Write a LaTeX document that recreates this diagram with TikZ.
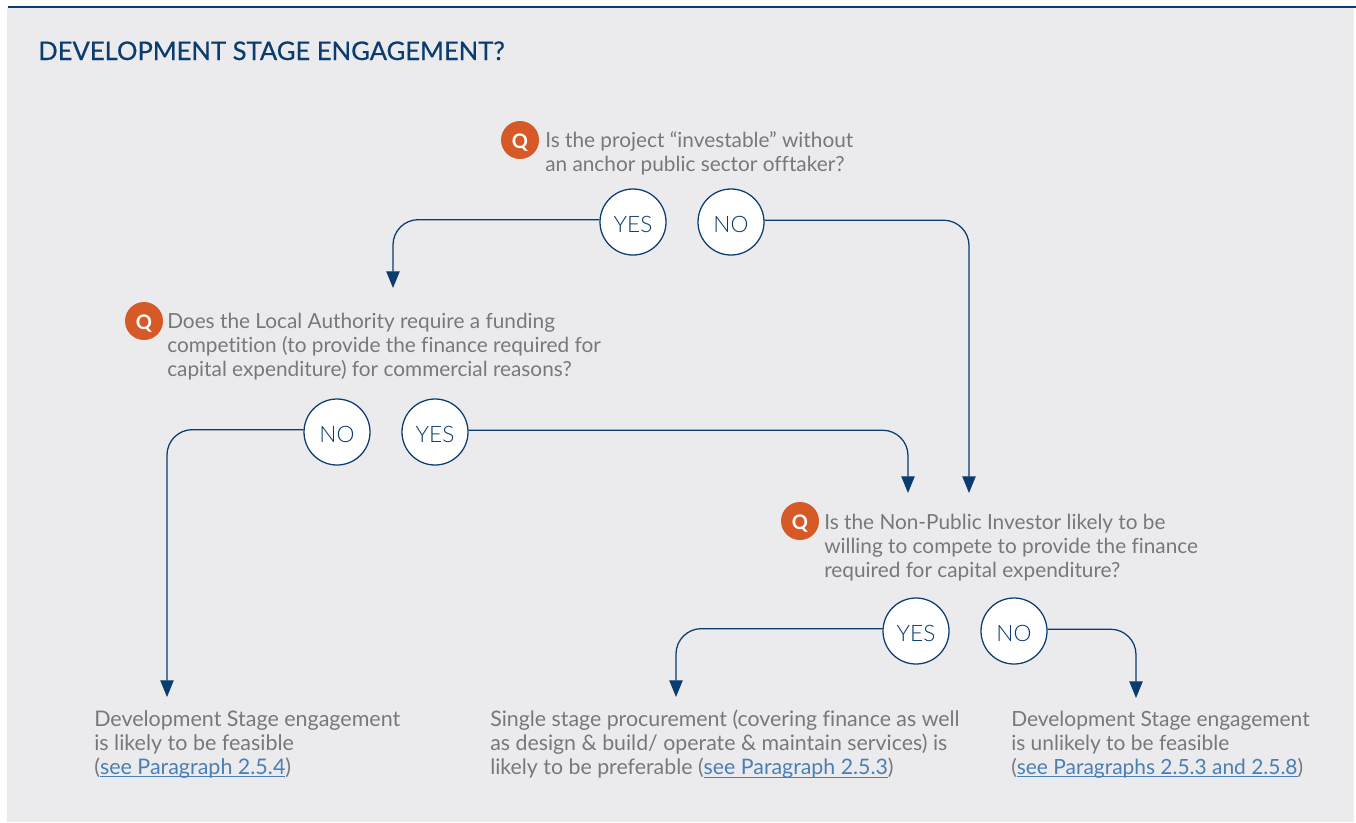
\documentclass[tikz,border=0pt]{standalone}
\usepackage{fontspec}
\setmainfont[Ligatures=NoCommon]{Lato}
\newfontfamily\titlefont[FakeBold=0.5]{Lato}
\newfontfamily\lightfont{Lato Light}
\definecolor{navy}{HTML}{0B3C6F}
\definecolor{panel}{HTML}{EBEBED}
\definecolor{txt}{HTML}{77787B}
\definecolor{orng}{HTML}{D65A27}
\definecolor{lnkblue}{HTML}{4A7FB5}
\newcommand\lnk[1]{\textcolor{lnkblue}{\setbox0\hbox{#1}\rlap{\rule[-2pt]{\wd0}{0.6pt}}\box0}}
\usetikzlibrary{arrows.meta}
\tikzset{
  x=0.75pt,y=-0.75pt,
  ans/.style={circle,draw=navy,line width=0.95pt,fill=white,minimum size=49.5pt,inner sep=0pt,text=navy,text height=15.2pt,text depth=0pt,font=\fontsize{17}{18}\lightfont},
  qbadge/.style={circle,fill=orng,minimum size=28.5pt,inner sep=0pt,text=white,text height=13pt,text depth=0pt,font=\fontsize{15}{16}\selectfont\bfseries},
  body/.style={anchor=north west,inner sep=0pt,align=left,text=txt,font=\fontsize{15.6}{18}\selectfont},
  conn/.style={draw=navy,line width=0.95pt,rounded corners=19pt,-{Triangle[length=12.5pt,width=10pt]}},
}
\begin{document}
\begin{tikzpicture}
\useasboundingbox (0,0) rectangle (1356,822);
\fill[white] (0,0) rectangle (1356,822);
\fill[panel] (7,7) rectangle (1354,822);
\draw[navy,line width=1.4pt] (8,7) -- (1356,7);
\node[anchor=base west,inner sep=0pt,text=navy,font=\fontsize{19.2}{22}\titlefont] (title) at (38,60) {DEVELOPMENT STAGE ENGAGEMENT?};

\node[qbadge] (q1) at (520,140) {Q};
\node[body] (t1) at (545,131.5) {Is the project “investable” without\\an anchor public sector offtaker?};
\node[qbadge] (q2) at (144,321) {Q};
\node[body] (t2) at (167,312.5) {Does the Local Authority require a funding\\competition (to provide the finance required for\\capital expenditure) for commercial reasons?};
\node[qbadge] (q3) at (800,521) {Q};
\node[body] (t3) at (824,513.5) {Is the Non-Public Investor likely to be\\willing to compete to provide the finance\\required for capital expenditure?};

\node[body,font=\fontsize{16.1}{18}\selectfont] (r1) at (94,710.5) {Development Stage engagement\\is likely to be feasible\\(\lnk{see Paragraph 2.5.4})};
\node[body,font=\fontsize{16}{18}\selectfont] (r2) at (490,710) {Single stage procurement (covering finance as well\\as design \& build/ operate \& maintain services) is\\likely to be preferable (\lnk{see Paragraph 2.5.3})};
\node[body,font=\fontsize{15.7}{18}\selectfont] (r3) at (1011,710.5) {Development Stage engagement\\is unlikely to be feasible\\(\lnk{see Paragraphs 2.5.3 and 2.5.8})};

\coordinate (a1) at (393,288);
\coordinate (a2) at (969,493);
\coordinate (a3) at (908,493);
\coordinate (a4) at (167,697);
\coordinate (a5) at (676,697);
\coordinate (a6) at (1136,698);

\node[ans] (y1) at (633,222) {YES};
\node[ans] (n1) at (731,222) {NO};
\node[ans] (n2) at (337,432) {NO};
\node[ans] (y2) at (435,432) {YES};
\node[ans] (y3) at (916,631) {YES};
\node[ans] (n3) at (1014,631) {NO};

\draw[conn] (y1.176.5) -| (a1);
\draw[conn] (n1.3.5) -| (a2);
\draw[conn] (n2.176.5) -| (a4);
\draw[conn] (y2.3.5) -| (a3);
\draw[conn] (y3.176.5) -| (a5);
\draw[conn] (n3.3.5) -| (a6);
\end{tikzpicture}
\end{document}
